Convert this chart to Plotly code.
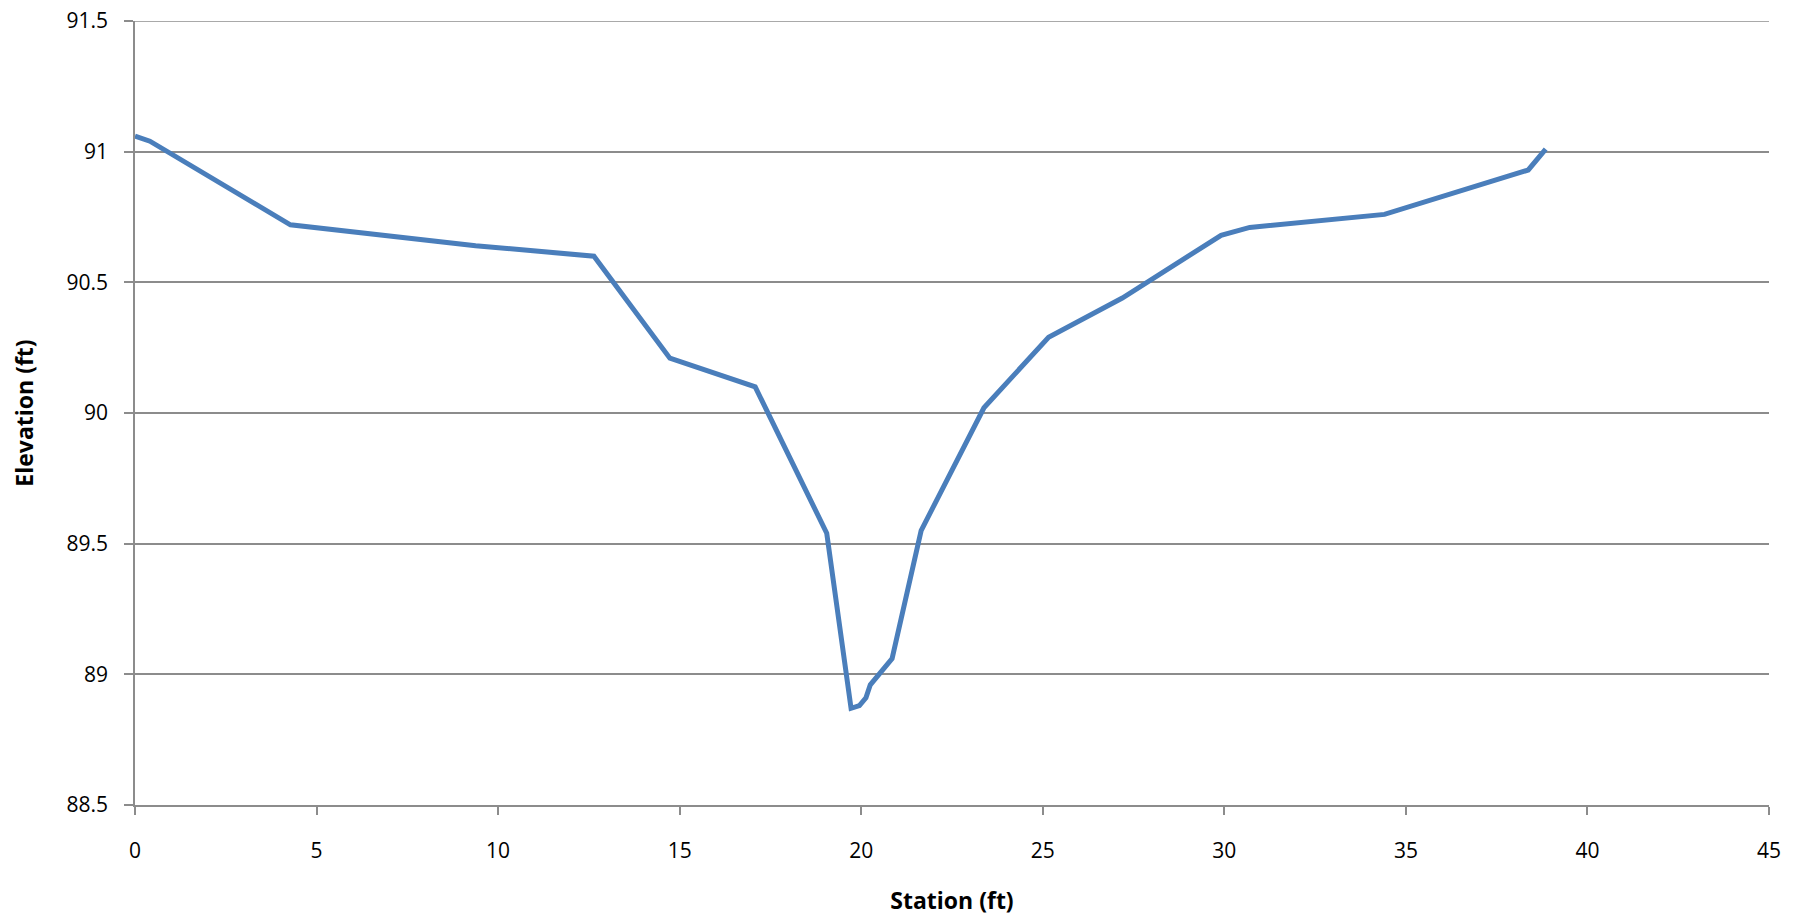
import plotly.graph_objects as go

station = [0, 0.41, 4.28, 9.38, 12.64, 14.73, 17.08, 19.05, 19.72, 19.95, 20.13,
           20.25, 20.85, 21.65, 23.38, 25.16, 27.19, 29.91, 30.70, 34.41, 38.37, 38.85]
elevation = [91.06, 91.04, 90.72, 90.64, 90.60, 90.21, 90.10, 89.54, 88.87, 88.88, 88.91,
             88.96, 89.06, 89.55, 90.02, 90.29, 90.44, 90.68, 90.71, 90.76, 90.93, 91.01]
y_min, y_max = 88.5, 91.5

fig = go.Figure()
fig.add_trace(go.Scatter(x=station, y=elevation, mode="lines",
                         line=dict(color="#4a7ebb", width=5), showlegend=False))

grid_color = "#8c8c8c"
font_family = "Open Sans, Lato, sans-serif"
fig.update_layout(
    width=1804, height=919,
    margin=dict(l=135, r=35, t=21, b=114),
    plot_bgcolor="white", paper_bgcolor="white",
    font=dict(family=font_family, size=21, color="black"),
)
# top gridline (plotly omits gridlines at the range edge)
fig.add_hline(y=y_max, line=dict(color=grid_color, width=1.5), layer="below")
fig.update_xaxes(
    range=[0, 45], tick0=0, dtick=5, showgrid=False,
    showline=True, linecolor=grid_color, linewidth=1.5,
    ticks="outside", ticklen=8, tickcolor=grid_color, tickwidth=1.5,
    ticklabelstandoff=18, automargin=False,
    zeroline=False,
    title=dict(text="<b>Station (ft)</b>", font=dict(size=23), standoff=30),
)
fig.update_yaxes(
    range=[y_min, y_max], tick0=y_min, dtick=0.5,
    showgrid=True, gridcolor=grid_color, gridwidth=1.5,
    showline=True, linecolor=grid_color, linewidth=1.5,
    ticks="outside", ticklen=9, tickcolor=grid_color, tickwidth=1.5,
    ticklabelstandoff=12, automargin=False,
    ticklabeloverflow="allow",
    zeroline=False,
    title=dict(text="<b>Elevation (ft)</b>", font=dict(size=23), standoff=26),
)
fig.write_html(
    "out.html",
    config={"displayModeBar": False},
    post_script="document.body.style.margin='0'; document.body.style.overflow='hidden';",
)
